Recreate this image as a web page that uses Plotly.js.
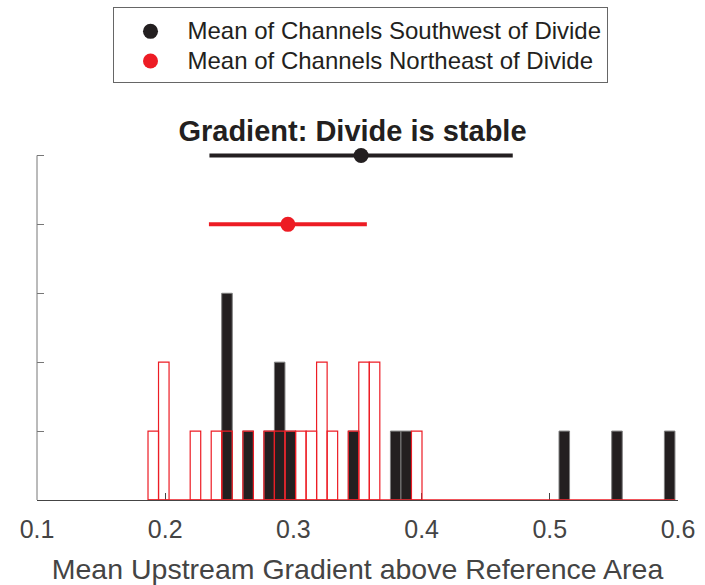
<!DOCTYPE html>
<html>
<head>
<meta charset="utf-8">
<script src="https://cdn.plot.ly/plotly-3.0.1.min.js"></script>
<style>
  html, body { margin: 0; padding: 0; background: #ffffff; }
  #chart { width: 705px; height: 585px; }
</style>
</head>
<body>
<div id="chart"></div>
<script>
// Histogram bins (bin centre, count) for each side of the divide
const southwestCenters = [0.2482, 0.2647, 0.2811, 0.2893, 0.2976, 0.3469, 0.3798, 0.3880, 0.5113, 0.5524, 0.5935];
const southwestCounts  = [3, 1, 1, 2, 1, 1, 1, 1, 1, 1, 1];

const northeastCenters = [0.1907, 0.1989, 0.2236, 0.2400, 0.2482, 0.2647, 0.2811, 0.2893, 0.2976,
                          0.3058, 0.3140, 0.3222, 0.3304, 0.3469, 0.3551, 0.3633, 0.3962];
const northeastCounts  = [1, 2, 1, 1, 1, 1, 1, 1, 1, 1, 1, 2, 1, 1, 2, 2, 1];

// Group means and their spread (one standard deviation)
const groupNames  = ['Mean of Channels Southwest of Divide', 'Mean of Channels Northeast of Divide'];
const groupMeans  = [0.3528, 0.2957];
const groupSpread = [0.1183, 0.0616];

const xTickValues = [0.1, 0.2, 0.3, 0.4, 0.5, 0.6];
const xTickLabels = ['0.1', '0.2', '0.3', '0.4', '0.5', '0.6'];
const yTickValues = [0, 1, 2, 3, 4, 5];

const BIN_WIDTH = 0.00822;
const FONT = 'Liberation Sans, Arial, Helvetica, sans-serif';
const RED = '#ed1c24';
const DARK = '#231f20';
const Y_TOP = 5.05;   // small headroom so the top spread line is not clipped

const legendLabel = name => '<span style="font-size:24px">' + name + '</span>';

const traces = [
  {
    type: 'bar', x: southwestCenters, y: southwestCounts, width: BIN_WIDTH,
    marker: { color: DARK, line: { color: '#7d7d7d', width: 1 } },
    showlegend: false, hoverinfo: 'skip'
  },
  {
    type: 'bar', x: northeastCenters, y: northeastCounts, width: BIN_WIDTH,
    marker: { color: 'rgba(0,0,0,0)', line: { color: RED, width: 1.2 } },
    showlegend: false, hoverinfo: 'skip'
  },
  {
    type: 'scatter', mode: 'markers', name: legendLabel(groupNames[0]),
    x: [groupMeans[0]], y: [5], cliponaxis: false,
    marker: { color: DARK, size: 15 },
    error_x: { type: 'data', array: [groupSpread[0]], visible: true, color: DARK, thickness: 4, width: 0 }
  },
  {
    type: 'scatter', mode: 'markers', name: legendLabel(groupNames[1]),
    x: [groupMeans[1]], y: [4], cliponaxis: false,
    marker: { color: RED, size: 15 },
    error_x: { type: 'data', array: [groupSpread[1]], visible: true, color: RED, thickness: 4, width: 0 }
  }
];

// Red baseline under the full run of histogram bins (zero-count bins)
const firstEdge = Math.min(...northeastCenters, ...southwestCenters) - BIN_WIDTH / 2;
const lastEdge  = Math.max(...northeastCenters, ...southwestCenters) + BIN_WIDTH / 2;

// y = 0 sits at 500 px and y = 5 at 155.7 px
const unitPx = (500 - 155.7) / 5;
const M = { l: 37, r: 27, t: 500 - Y_TOP * unitPx, b: 85, autoexpand: false };
const plotW = 705 - M.l - M.r;
const plotH = 585 - M.t - M.b;

const layout = {
  width: 705, height: 585,
  margin: M,
  paper_bgcolor: '#ffffff', plot_bgcolor: '#ffffff',
  barmode: 'overlay',
  font: { family: FONT, color: '#444444' },
  title: {
    text: 'Gradient: Divide is stable',
    font: { family: FONT, size: 29, weight: 'bold', color: DARK },
    xref: 'container', x: 0.5, xanchor: 'center',
    yref: 'container', y: 1 - 131 / 585, yanchor: 'middle'
  },
  xaxis: {
    range: [0.1, 0.6], tickvals: xTickValues, ticktext: xTickLabels,
    ticks: 'inside', ticklen: 7, tickcolor: '#444444', tickwidth: 1,
    showline: true, linecolor: '#444444', linewidth: 1,
    showgrid: false, zeroline: false, layer: 'below traces',
    ticklabelstandoff: 7,
    tickfont: { family: FONT, size: 25, color: '#444444' },
    title: { text: 'Mean Upstream Gradient above Reference Area', font: { family: FONT, size: 28.5, color: '#444444' }, standoff: 22 }
  },
  yaxis: {
    range: [0, Y_TOP], tickvals: yTickValues, showticklabels: false,
    ticks: 'inside', ticklen: 7, tickcolor: '#777777', tickwidth: 1,
    showline: false, showgrid: false, zeroline: false, layer: 'below traces'
  },
  shapes: [
    // left axis line, running from the 0 tick up to the top tick
    { type: 'line', xref: 'paper', yref: 'y', x0: 0, x1: 0, y0: 0, y1: yTickValues[yTickValues.length - 1],
      line: { color: '#777777', width: 1 }, layer: 'below' },
    { type: 'line', xref: 'x', yref: 'y', x0: firstEdge, x1: lastEdge, y0: 0, y1: 0,
      line: { color: RED, width: 1.5 } }
  ],
  legend: {
    xref: 'paper', yref: 'paper',
    x: (360 - M.l) / plotW, xanchor: 'center',
    y: 1 + (M.t - 7) / plotH, yanchor: 'top',
    bgcolor: '#ffffff', bordercolor: '#666666', borderwidth: 1,
    font: { family: FONT, size: 20.5, color: DARK },
    title: { text: ' ', font: { family: FONT, size: 3 } },
    itemwidth: 64, tracegroupgap: 0
  },
  showlegend: true
};

Plotly.newPlot('chart', traces, layout, { staticPlot: true, displayModeBar: false });
</script>
</body>
</html>
